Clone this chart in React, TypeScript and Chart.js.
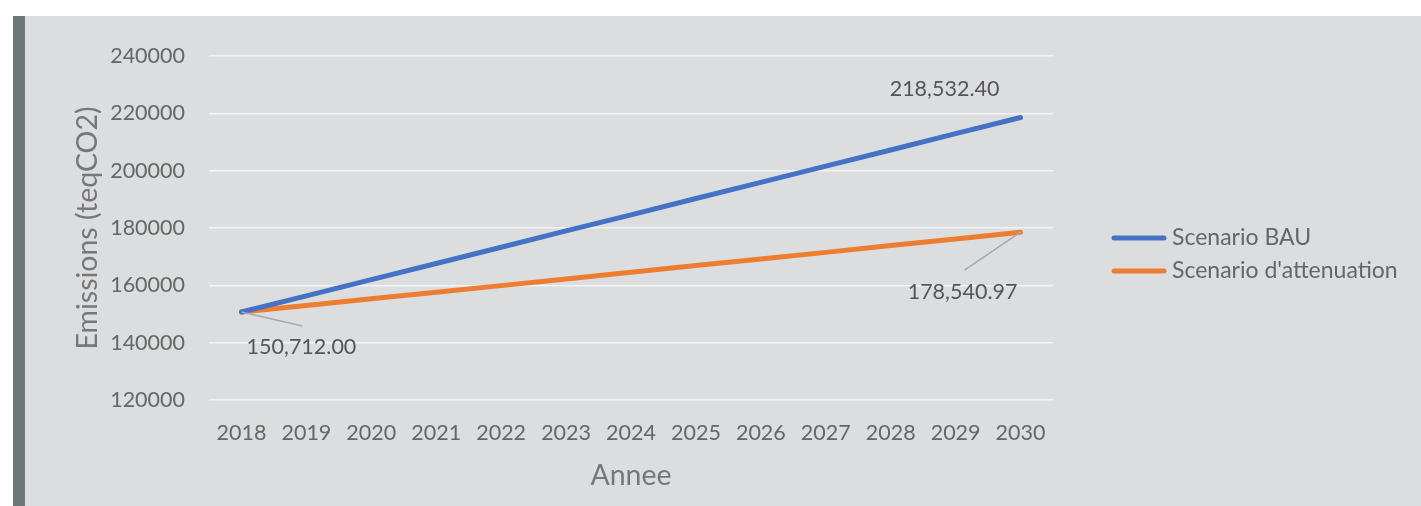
import React, { useEffect, useRef } from "react";
import { Chart, registerables } from "chart.js";

Chart.register(...registerables);

const years = ["2018", "2019", "2020", "2021", "2022", "2023", "2024", "2025", "2026", "2027", "2028", "2029", "2030"];
const bauValues = [150712, 156300, 162000, 167600, 173300, 179000, 184600, 190300, 195900, 201600, 207200, 212900, 218532.4];
const mitigationValues = [150712, 153000, 155300, 157600, 159900, 162200, 164600, 166900, 169200, 171500, 173900, 176200, 178540.97];
const seriesLabels = ["Scenario BAU", "Scenario d'attenuation"];
const seriesColors = ["#4472C4", "#ED7D31"];
const yTitle = "Emissions (teqCO2)";
const xTitle = "Annee";

const FONT = "Lato, 'Open Sans', sans-serif";

const fmt = (v: number) =>
  v.toLocaleString("en-US", { minimumFractionDigits: 2, maximumFractionDigits: 2 });

// data labels: [datasetIndex, pointIndex, dx, dy, leaderEnd?]
const labelSpecs: Array<{ ds: number; idx: number; dx: number; dy: number; leader?: [number, number] }> = [
  { ds: 1, idx: 0, dx: 60, dy: 35, leader: [61, 14] },
  { ds: 0, idx: 12, dx: -76, dy: -28 },
  { ds: 1, idx: 12, dx: -58, dy: 60, leader: [-56, 38] },
];

const labelsPlugin = {
  id: "dataLabels",
  afterDatasetsDraw(chart: any) {
    const ctx = chart.ctx;
    const xs = chart.scales.x;
    const ys = chart.scales.y;
    ctx.save();
    for (const s of labelSpecs) {
      const v = chart.data.datasets[s.ds].data[s.idx] as number;
      const px = xs.getPixelForValue(s.idx);
      const py = ys.getPixelForValue(v);
      if (s.leader) {
        ctx.strokeStyle = "#A9A9A9";
        ctx.lineWidth = 1.5;
        ctx.beginPath();
        ctx.moveTo(px, py);
        ctx.lineTo(px + s.leader[0], py + s.leader[1]);
        ctx.stroke();
      }
      ctx.fillStyle = "#555555";
      ctx.font = `21.5px ${FONT}`;
      ctx.textAlign = "center";
      ctx.textBaseline = "middle";
      ctx.fillText(fmt(v), px + s.dx, py + s.dy);
    }
    ctx.restore();
  },
};

const legendPlugin = {
  id: "customLegend",
  afterDraw(chart: any) {
    const ctx = chart.ctx;
    ctx.save();
    chart.data.datasets.forEach((ds: any, i: number) => {
      const y = 238 + i * 33;
      ctx.strokeStyle = ds.borderColor;
      ctx.lineWidth = 5;
      ctx.lineCap = "round";
      ctx.beginPath();
      ctx.moveTo(1114, y);
      ctx.lineTo(1164, y);
      ctx.stroke();
      ctx.fillStyle = "#666666";
      ctx.font = `23px ${FONT}`;
      ctx.textAlign = "left";
      ctx.textBaseline = "middle";
      ctx.fillText(ds.label, 1172, y);
    });
    ctx.restore();
  },
};

export default function App() {
  const ref = useRef<HTMLCanvasElement | null>(null);

  useEffect(() => {
    if (!ref.current) return;
    const chart = new Chart(ref.current, {
      type: "line",
      data: {
        labels: years,
        datasets: [
          {
            label: seriesLabels[0],
            data: bauValues,
            borderColor: seriesColors[0],
            backgroundColor: seriesColors[0],
            borderWidth: 5,
            pointRadius: 0,
            borderCapStyle: "round",
            tension: 0,
          },
          {
            label: seriesLabels[1],
            data: mitigationValues,
            borderColor: seriesColors[1],
            backgroundColor: seriesColors[1],
            borderWidth: 5,
            pointRadius: 0,
            borderCapStyle: "round",
            tension: 0,
          },
        ],
      },
      options: {
        animation: false,
        responsive: false,
        devicePixelRatio: 1,
        layout: { padding: { left: 25, right: 368, top: 56, bottom: 0 } },
        plugins: {
          legend: { display: false },
          tooltip: { enabled: false },
        },
        scales: {
          x: {
            offset: true,
            grid: { display: false, drawTicks: false },
            border: { display: false },
            ticks: {
              color: "#666666",
              font: { family: FONT, size: 21.5 },
              padding: 20,
              maxRotation: 0,
              autoSkip: false,
            },
            title: {
              display: true,
              text: xTitle,
              color: "#777777",
              font: { family: FONT, size: 28.5 },
              padding: { top: 0, bottom: 13 },
            },
            afterFit(scale: any) {
              scale.height = 106;
            },
          },
          y: {
            min: 120000,
            max: 240000,
            grid: { color: "#F3F3F3", lineWidth: 1.5, drawTicks: false },
            border: { display: false },
            ticks: {
              stepSize: 20000,
              color: "#666666",
              font: { family: FONT, size: 21.5 },
              padding: 24,
              callback: (value: any) => String(value),
            },
            title: {
              display: true,
              text: yTitle,
              color: "#777777",
              font: { family: FONT, size: 28.5 },
              padding: { top: 46, bottom: 0 },
            },
            afterFit(scale: any) {
              scale.width = 184;
            },
          },
        },
      },
      plugins: [labelsPlugin, legendPlugin],
    });
    return () => chart.destroy();
  }, []);

  return (
    <div style={{ position: "fixed", left: 0, top: 0, width: 1421, height: 506, background: "#ffffff" }}>
      <div style={{ position: "absolute", left: 13, top: 16, width: 1408, height: 490, background: "#DCDDDF" }} />
      <div style={{ position: "absolute", left: 13, top: 16, width: 12, height: 490, background: "#6E7777" }} />
      <canvas ref={ref} width={1421} height={506} style={{ position: "absolute", left: 0, top: 0, width: 1421, height: 506 }} />
    </div>
  );
}
